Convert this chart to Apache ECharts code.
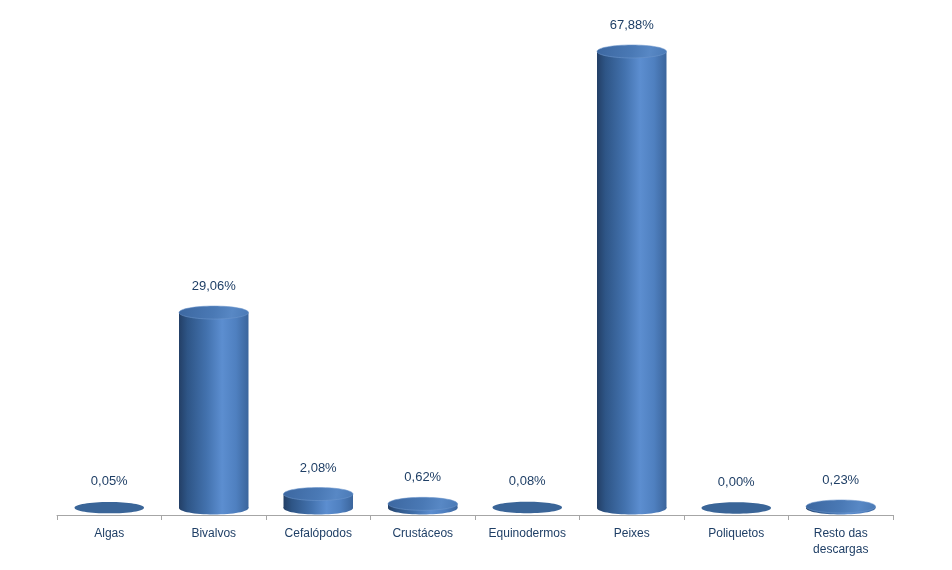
<!DOCTYPE html>
<html>
<head>
<meta charset="utf-8">
<script src="https://cdn.jsdelivr.net/npm/echarts@6/dist/echarts.min.js"></script>
<style>
html,body{margin:0;padding:0;background:#fff;}
#c{width:952px;height:570px;}
</style>
</head>
<body>
<div id="c"></div>
<script>
const categories = ['Algas','Bivalvos','Cefalópodos','Crustáceos','Equinodermos','Peixes','Poliquetos','Resto das\ndescargas'];
const values = [0.05, 29.06, 2.08, 0.62, 0.08, 67.88, 0.00, 0.23];
const valueLabels = ['0,05%','29,06%','2,08%','0,62%','0,08%','67,88%','0,00%','0,23%'];

const textColor = '#1F3F66';
const chart = echarts.init(document.getElementById('c'), null, {renderer:'canvas'});

function renderItem(params, api) {
  const idx = params.dataIndex;
  const v = api.value(1);
  const base = api.coord([api.value(0), 0]);
  const top = api.coord([api.value(0), v]);
  const band = api.size([1, 0])[0];
  const w = band * 0.665;
  const rx = w / 2;
  const ry = 6.5;
  const cx = base[0];
  const x0 = cx - rx;
  const yB = base[1];
  const yT = top[1];
  const h = yB - yT;
  const bodyGrad = new echarts.graphic.LinearGradient(0, 0, 1, 0, [
    {offset: 0, color: '#233F66'},
    {offset: 0.12, color: '#2E5586'},
    {offset: 0.4, color: '#4372AE'},
    {offset: 0.62, color: '#5C8ED0'},
    {offset: 0.82, color: '#4F80C0'},
    {offset: 1, color: '#3B659C'}
  ]);
  const children = [];
  if (h > 1.5) {
    children.push({
      type: 'ellipse',
      shape: {cx: cx, cy: yB, rx: rx, ry: ry},
      style: {fill: bodyGrad}
    });
    children.push({
      type: 'rect',
      shape: {x: x0, y: yT, width: w, height: h},
      style: {fill: bodyGrad}
    });
    children.push({
      type: 'ellipse',
      shape: {cx: cx, cy: yT, rx: rx, ry: ry},
      style: {
        fill: new echarts.graphic.LinearGradient(0, 0, 1, 1, [
          {offset: 0, color: '#3C67A0'},
          {offset: 0.5, color: '#4A79B5'},
          {offset: 0.75, color: '#5888C5'},
          {offset: 1, color: '#4A79B5'}
        ]),
        stroke: 'rgba(110,150,205,0.7)',
        lineWidth: 0.8
      }
    });
  } else {
    children.push({
      type: 'ellipse',
      shape: {cx: cx, cy: yT, rx: rx, ry: ry - 0.8},
      style: {fill: '#3A6598'}
    });
  }
  children.push({
    type: 'text',
    style: {
      text: valueLabels[idx],
      x: cx,
      y: yT - 26,
      align: 'center',
      verticalAlign: 'middle',
      fill: textColor,
      font: '13px "Liberation Sans", Arial, sans-serif'
    }
  });
  return {type: 'group', children: children};
}

chart.setOption({
  animation: false,
  backgroundColor: '#ffffff',
  grid: {left: 57, right: 59, top: 37.2, bottom: 62},
  xAxis: {
    type: 'category',
    data: categories,
    offset: 7,
    axisLine: {onZero: false, lineStyle: {color: '#A6A6A6', width: 1}},
    axisTick: {show: true, length: 5, lineStyle: {color: '#A6A6A6'}},
    axisLabel: {
      color: textColor,
      fontSize: 12,
      fontFamily: '"Liberation Sans", Arial, sans-serif',
      margin: 11,
      lineHeight: 16,
      interval: 0
    }
  },
  yAxis: {
    type: 'value',
    min: 0,
    max: 70,
    show: false,
    splitLine: {show: false}
  },
  series: [{
    type: 'custom',
    renderItem: renderItem,
    data: values.map((v, i) => [i, v]),
    clip: false
  }]
});
</script>
</body>
</html>
